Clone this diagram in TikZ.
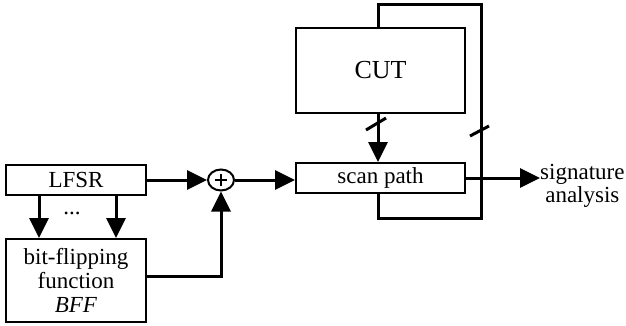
\documentclass[tikz,border=0pt]{standalone}
\usepackage{fontspec}
\setmainfont{Liberation Serif}
\newfontfamily\tnr{Liberation Serif}
\usetikzlibrary{arrows.meta,shapes.geometric}
\begin{document}
\begin{tikzpicture}[x=1pt,y=-1pt,
  blk/.style={draw,line width=2pt,rectangle,inner sep=0pt,font=\tnr\fontsize{23}{24}\selectfont},
  conn/.style={line width=3pt},
  arr/.style={conn,-{Triangle[length=20pt,width=19pt]}},
  lbl/.style={font=\tnr\fontsize{23}{23.5}\selectfont,inner sep=0pt,align=center}]
\useasboundingbox (0,0) rectangle (626,325);
\node[blk,minimum width=140pt,minimum height=30pt] (lfsr) at (76,180) {LFSR};
\node[blk,minimum width=140pt,minimum height=83pt,align=center] (bff) at (76,280.5) {bit-flipping\\function\\\textit{BFF}};
\node[draw,line width=2pt,ellipse,minimum width=26pt,minimum height=21pt,inner sep=0pt] (xor) at (221,180) {};
\draw[line width=1.5pt] ([xshift=-6pt]xor.center) -- ([xshift=6pt]xor.center)
  ([yshift=-6pt]xor.center) -- ([yshift=6pt]xor.center);
\node[blk,minimum width=169pt,minimum height=30pt] (scan) at (380.5,178) {scan path};
\node[blk,minimum width=169pt,minimum height=85pt,font=\tnr\fontsize{26}{28}\selectfont] (cut) at (380.5,70.5) {CUT};
\node[lbl] (dots) at (72,213) {...};
\node[lbl,anchor=west] (sig) at (540,186) {signature\\analysis};
% connectors
\draw[arr] (lfsr.east) -- (xor.west);
\draw[arr] (xor.east) -- (scan.west |- xor.east);
\draw[arr] (39,195) -- (bff.north -| 39,0);
\draw[arr] (116,195) -- (bff.north -| 116,0);
\draw[arr] ([yshift=4.5pt]bff.east) -| (xor.south);
\coordinate (lt) at (378,4);
\coordinate (rt) at (481,4);
\coordinate (rb) at (481,218);
\coordinate (lb) at (378,218);
\draw[conn,line join=miter] (cut.north -| lt) -- (lt) -- (rt) -- (rb) -- (lb) -- (scan.south -| lb);
\draw[arr] (cut.south -| lt) -- (scan.north -| lt);
\draw[conn] (366,130) -- (386,118);
\draw[conn] (470,136) -- (489,126);
\draw[arr] (scan.east) -- (scan.east -| sig.west);
\end{tikzpicture}
\end{document}
